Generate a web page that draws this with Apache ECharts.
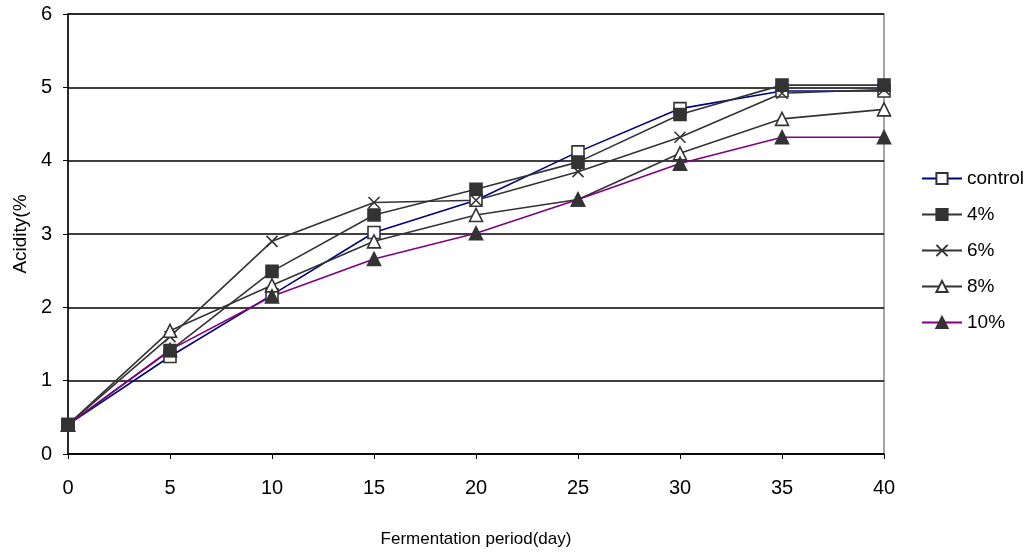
<!DOCTYPE html>
<html>
<head>
<meta charset="utf-8">
<script src="https://cdn.jsdelivr.net/npm/echarts@6/dist/echarts.min.js"></script>
<style>
  html, body { margin: 0; padding: 0; background: #fff; }
  #chart { width: 1034px; height: 559px; }
</style>
</head>
<body>
<div id="chart"></div>
<script>
// Fermentation days (x) and acidity (%) per treatment
const days = [0, 5, 10, 15, 20, 25, 30, 35, 40];
const control = [0.40, 1.33, 2.17, 3.02, 3.46, 4.12, 4.71, 4.95, 4.95];
const p4 = [0.40, 1.41, 2.49, 3.26, 3.61, 3.98, 4.63, 5.03, 5.03];
const p6 = [0.40, 1.60, 2.90, 3.43, 3.46, 3.85, 4.32, 4.92, 4.97];
const p8 = [0.40, 1.68, 2.30, 2.90, 3.26, 3.47, 4.10, 4.57, 4.70];
const p10 = [0.40, 1.42, 2.15, 2.66, 3.01, 3.47, 3.96, 4.32, 4.32];
const seriesNames = ['control', '4%', '6%', '8%', '10%'];

const FONT = 'Liberation Sans, Arial, sans-serif';
const crossPath = 'path://M0,0L10,10M10,0L0,10';

function pairs(vals) { return days.map((d, i) => [d, vals[i]]); }

function mkSeries(name, vals, lineColor, symbol, filled) {
  const isCross = symbol === crossPath;
  return {
    name: name,
    type: 'line',
    data: pairs(vals),
    symbol: symbol,
    symbolSize: isCross ? 11 : (symbol === 'triangle' ? 13 : 12),
    showAllSymbol: true,
    lineStyle: { color: lineColor, width: 1.6 },
    itemStyle: {
      color: filled ? '#333' : (isCross ? 'none' : '#fff'),
      borderColor: '#333',
      borderWidth: 1.6
    },
    emphasis: { disabled: true },
    z: 3
  };
}

const chart = echarts.init(document.getElementById('chart'), null, { renderer: 'canvas' });
chart.setOption({
  animation: false,
  backgroundColor: '#fff',
  grid: {
    left: 68, right: 150, top: 14, bottom: 105,
    show: true, borderColor: '#888', borderWidth: 1.5, backgroundColor: 'transparent'
  },
  legend: {
    orient: 'vertical',
    left: 921, top: 169, padding: 0,
    itemWidth: 40, itemHeight: 14, itemGap: 17,
    textStyle: { fontFamily: FONT, fontSize: 19, color: '#000' },
    data: seriesNames
  },
  xAxis: {
    type: 'value', min: 0, max: 40, interval: 5,
    name: 'Fermentation period(day)', nameLocation: 'middle', nameGap: 77,
    nameTextStyle: { fontFamily: FONT, fontSize: 17, color: '#000' },
    axisLine: { show: true, lineStyle: { color: '#000', width: 1.5 } },
    axisTick: { show: true, inside: false, length: 5, lineStyle: { color: '#000' } },
    axisLabel: { fontFamily: FONT, fontSize: 20, color: '#000', margin: 24 },
    splitLine: { show: false }
  },
  yAxis: {
    type: 'value', min: 0, max: 6, interval: 1,
    name: 'Acidity(%', nameLocation: 'middle', nameGap: 38,
    nameTextStyle: { fontFamily: FONT, fontSize: 19, color: '#000' },
    axisLine: { show: true, lineStyle: { color: '#000', width: 1.5 } },
    axisTick: { show: true, inside: false, length: 5, lineStyle: { color: '#000' } },
    axisLabel: { fontFamily: FONT, fontSize: 20, color: '#000', margin: 16 },
    splitLine: { show: true, lineStyle: { color: '#000', width: 1.5 } }
  },
  series: [
    mkSeries('control', control, '#000080', 'rect', false),
    mkSeries('4%', p4, '#333', 'rect', true),
    mkSeries('6%', p6, '#333', crossPath, false),
    mkSeries('8%', p8, '#333', 'triangle', false),
    mkSeries('10%', p10, '#800080', 'triangle', true)
  ]
});
</script>
</body>
</html>
